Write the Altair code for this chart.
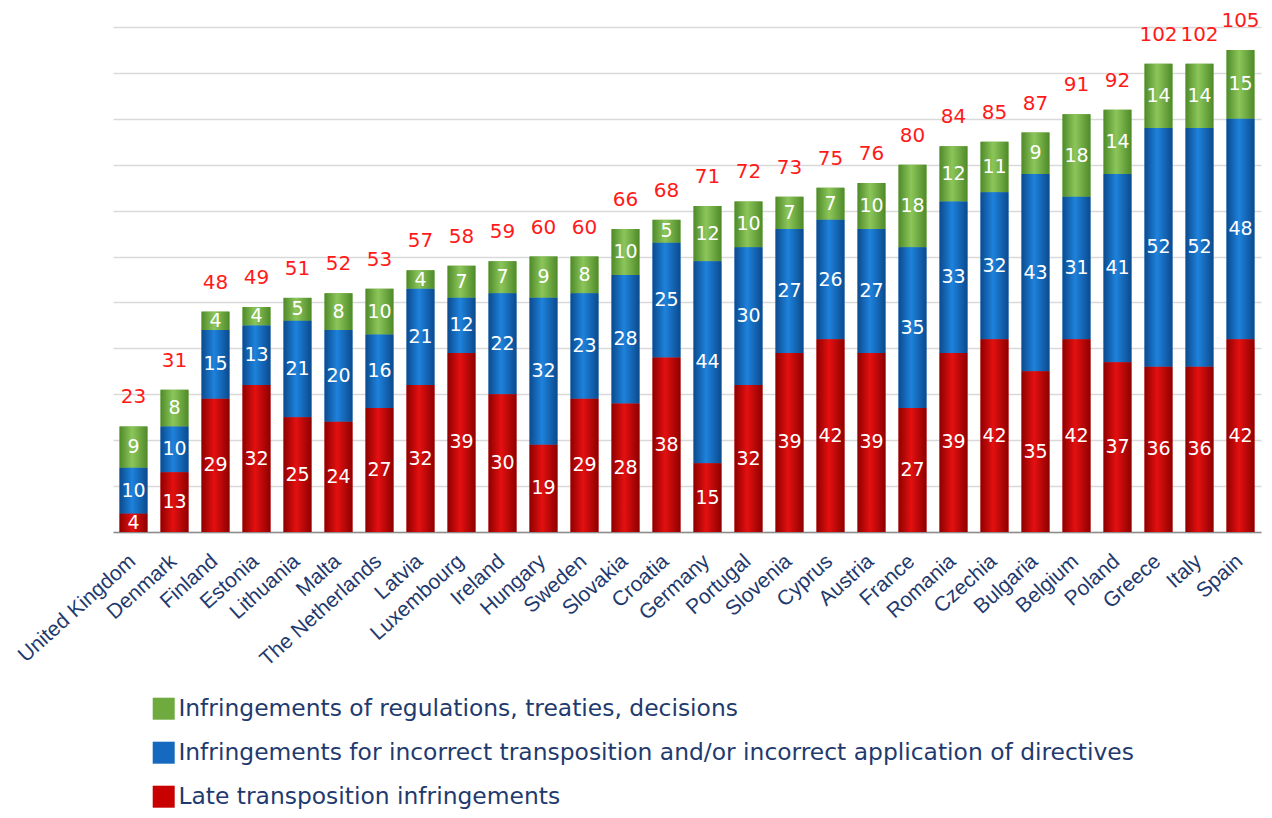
import altair as alt
import pandas as pd

countries = ["United Kingdom", "Denmark", "Finland", "Estonia", "Lithuania", "Malta",
             "The Netherlands", "Latvia", "Luxembourg", "Ireland", "Hungary", "Sweden",
             "Slovakia", "Croatia", "Germany", "Portugal", "Slovenia", "Cyprus", "Austria",
             "France", "Romania", "Czechia", "Bulgaria", "Belgium", "Poland", "Greece",
             "Italy", "Spain"]
late = [4, 13, 29, 32, 25, 24, 27, 32, 39, 30, 19, 29, 28, 38, 15, 32, 39, 42, 39,
        27, 39, 42, 35, 42, 37, 36, 36, 42]
incorrect = [10, 10, 15, 13, 21, 20, 16, 21, 12, 22, 32, 23, 28, 25, 44, 30, 27, 26, 27,
             35, 33, 32, 43, 31, 41, 52, 52, 48]
regulations = [9, 8, 4, 4, 5, 8, 10, 4, 7, 7, 9, 8, 10, 5, 12, 10, 7, 7, 10,
               18, 12, 11, 9, 18, 14, 14, 14, 15]
totals = [23, 31, 48, 49, 51, 52, 53, 57, 58, 59, 60, 60, 66, 68, 71, 72, 73, 75, 76,
          80, 84, 85, 87, 91, 92, 102, 102, 105]

series_names = [
    "Infringements of regulations, treaties, decisions",
    "Infringements for incorrect transposition and/or incorrect application of directives",
    "Late transposition infringements",
]
flat_colors = ["#6FAA3E", "#1569BE", "#C80000"]
grad_edges = ["#4F8A2A", "#0B4A8E", "#8E0000"]
grad_centers = ["#8CC65A", "#1E82DC", "#E41010"]

rows = []
for i, c in enumerate(countries):
    start = 0
    for s_idx, vals in [(2, late), (1, incorrect), (0, regulations)]:
        v = vals[i]
        rows.append({"country": c, "series": series_names[s_idx], "value": v,
                     "start": start, "end": start + v, "mid": start + v / 2})
        start += v
df = pd.DataFrame(rows)
tot_df = pd.DataFrame({"country": countries, "total": totals})

x_enc = alt.X("country:N", sort=countries, title=None,
              scale=alt.Scale(paddingInner=0.32, paddingOuter=0.16),
              axis=alt.Axis(labelAngle=-42, labelFontSize=21, labelFont="Liberation Sans",
                            labelColor="#1F3A6E", ticks=False, domainColor="#8C8C8C",
                            domainWidth=1.5, labelPadding=18, labelLimit=300,
                            labelOffset=-8))
y_scale = alt.Scale(domain=[0, 110], nice=False)

base = alt.Chart(df).mark_bar().encode(
    x=x_enc,
    y=alt.Y("start:Q", scale=y_scale, title=None,
            axis=alt.Axis(values=list(range(0, 111, 10)), labels=False, ticks=False,
                          domain=False, gridColor="#D9D9D9", gridWidth=1.5)),
    y2="end:Q",
    color=alt.Color("series:N", scale=alt.Scale(domain=series_names, range=flat_colors),
                    legend=alt.Legend(title=None, orient="none", legendX=39, legendY=670,
                                      symbolType="square", symbolSize=484,
                                      symbolStrokeWidth=0, labelFontSize=23.4,
                                      labelFont="DejaVu Sans", labelColor="#1F3A6E",
                                      labelLimit=1200, rowPadding=19, labelOffset=3)),
)

layers = [base]
for k in range(3):
    g = alt.Gradient(gradient="linear", x1=0, x2=1, y1=0, y2=0,
                     stops=[alt.GradientStop(offset=0, color=grad_edges[k]),
                            alt.GradientStop(offset=0.45, color=grad_centers[k]),
                            alt.GradientStop(offset=1, color=grad_edges[k])])
    layers.append(
        alt.Chart(df).transform_filter(alt.datum.series == series_names[k])
        .mark_bar(fill=g).encode(x=alt.X("country:N", sort=countries),
                                 y=alt.Y("start:Q", scale=y_scale), y2="end:Q")
    )

inner = alt.Chart(df).mark_text(color="white", fontSize=19, font="DejaVu Sans",
                                baseline="middle").encode(
    x=alt.X("country:N", sort=countries),
    y=alt.Y("mid:Q", scale=y_scale),
    text="value:Q",
)
top = alt.Chart(tot_df).mark_text(color="#FF1A1A", fontSize=20, font="DejaVu Sans",
                                  baseline="middle", dy=-29).encode(
    x=alt.X("country:N", sort=countries),
    y=alt.Y("total:Q", scale=y_scale),
    text="total:Q",
)
layers += [inner, top]

chart = alt.layer(*layers).properties(
    width=1148, height=505,
    autosize=alt.AutoSizeParams(type="none"),
    padding={"left": 105, "top": 19, "right": 3, "bottom": 278},
).configure(background="white").configure_view(stroke=None)

chart.save("out.html", embed_options={"renderer": "svg", "actions": False})
